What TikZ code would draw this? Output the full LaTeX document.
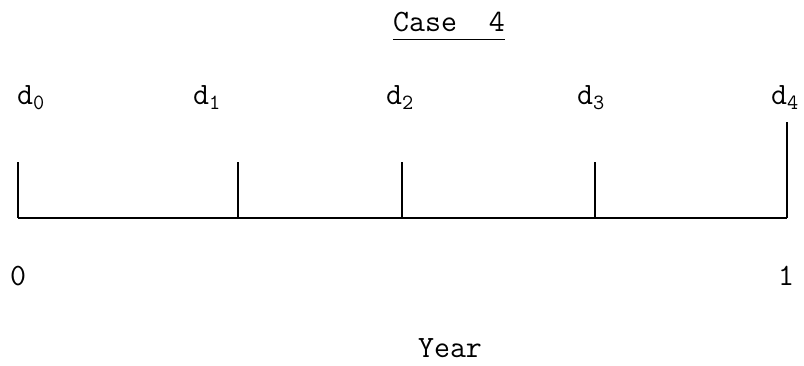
\documentclass[tikz,border=0pt]{standalone}
\usepackage{tikz}
\usetikzlibrary{positioning, calc}

\tikzset{
  lbl/.style={inner sep=0pt, font=\ttfamily\fontsize{31}{34}\selectfont},
  tick/.style={line width=2.6pt},
  axis/.style={line width=1.8pt}
}

\begin{document}
\begin{tikzpicture}[x=1pt, y=-1pt]
\useasboundingbox (0,0) rectangle (804,366);

% axis points
\coordinate (t0) at (18,218);
\coordinate (t1) at (238,218);
\coordinate (t2) at (402,218);
\coordinate (t3) at (595,218);
\coordinate (t4) at (787,218);

% tick tops
\coordinate (h0) at (18,162);
\coordinate (h1) at (238,162);
\coordinate (h2) at (402,162);
\coordinate (h3) at (595,162);
\coordinate (h4) at (787,122);

\draw[axis] (t0) -- (t4);
\foreach \i in {0,...,4} {
    \draw[tick] (t\i) -- (h\i);
}

% labels
\node[lbl, anchor=base west] (d0) at (17,105) {d\textsubscript{0}};
\node[lbl, anchor=base west] (d1) at (193,105) {d\textsubscript{1}};
\node[lbl, anchor=base west] (d2) at (386,105) {d\textsubscript{2}};
\node[lbl, anchor=base west] (d3) at (577,105) {d\textsubscript{3}};
\node[lbl, anchor=base west] (d4) at (771,105) {d\textsubscript{4}};

\node[lbl] (zero) at (18,276) {0};
\node[lbl] (one) at (786,276) {1};
\node[lbl, anchor=base] (year) at (450,358) {Year};
\node[lbl, anchor=base] (title) at (449,32) {Case\ \ 4};
\draw[line width=1.8pt] ([yshift=-7pt]title.south west) -- ([yshift=-7pt]title.south east);
\end{tikzpicture}
\end{document}
